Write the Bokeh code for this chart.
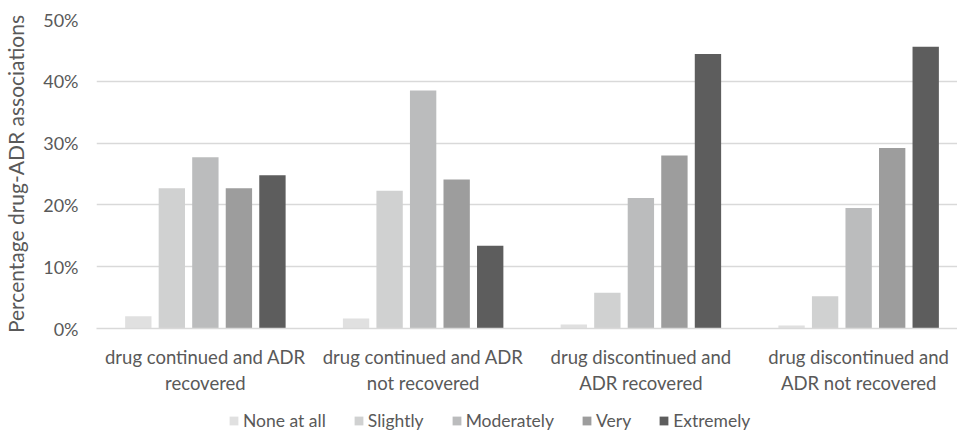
from bokeh.plotting import figure
from bokeh.models import (Range1d, FixedTicker, PrintfTickFormatter, Legend,
                          LegendItem, ColumnDataSource)
from bokeh.layouts import column
from bokeh.transform import dodge
from bokeh.embed import file_html
from bokeh.resources import INLINE

categories = ["drug continued and ADR\nrecovered",
              "drug continued and ADR\nnot recovered",
              "drug discontinued and\nADR recovered",
              "drug discontinued and\nADR not recovered"]
levels = ["None at all", "Slightly", "Moderately", "Very", "Extremely"]
none_at_all = [2.0, 1.6, 0.65, 0.5]
slightly = [22.7, 22.3, 5.8, 5.2]
moderately = [27.7, 38.5, 21.1, 19.5]
very = [22.7, 24.1, 28.0, 29.2]
extremely = [24.8, 13.4, 44.4, 45.6]
y_ticks = [0, 10, 20, 30, 40, 50]

colors = ["#e0e0e0", "#d0d1d1", "#bbbcbd", "#9d9d9d", "#5d5d5d"]
series = [none_at_all, slightly, moderately, very, extremely]

FONT = "Lato"
TXT = "#595959"
FS = "18.5px"

xc = [i + 0.5 for i in range(len(categories))]
src = ColumnDataSource(dict(xc=xc, **{lv: s for lv, s in zip(levels, series)}))

p = figure(width=957, height=397, output_backend="svg", toolbar_location=None,
           x_range=Range1d(0, 3.954), y_range=Range1d(0, 50),
           min_border_left=91, min_border_right=0, min_border_top=19,
           min_border_bottom=69, outline_line_color=None)

pitch = 0.154
bw = 0.121
for i, (lv, col) in enumerate(zip(levels, colors)):
    p.vbar(x=dodge("xc", (i - 2) * pitch, range=p.x_range), top=lv, width=bw,
           source=src, fill_color=col, line_color=None)

p.xgrid.visible = False
p.ygrid.grid_line_color = "#d9d9d9"
p.ygrid.grid_line_width = 1.3
p.ygrid.ticker = FixedTicker(ticks=y_ticks)

ya = p.yaxis[0]
ya.ticker = FixedTicker(ticks=y_ticks)
ya.formatter = PrintfTickFormatter(format="%d%%")
ya.axis_line_color = None
ya.major_tick_line_color = None
ya.minor_tick_line_color = None
ya.major_label_standoff = 12
ya.major_label_text_font = FONT
ya.major_label_text_font_size = "18px"
ya.major_label_text_color = TXT
ya.axis_label = "Percentage drug-ADR associations"
ya.axis_label_text_font = FONT
ya.axis_label_text_font_size = "21px"
ya.axis_label_text_font_style = "normal"
ya.axis_label_text_color = TXT
ya.axis_label_standoff = 12

xa = p.xaxis[0]
xa.ticker = FixedTicker(ticks=xc)
xa.major_label_overrides = {x: c for x, c in zip(xc, categories)}
xa.axis_line_color = "#d9d9d9"
xa.axis_line_width = 1.3
xa.major_tick_line_color = None
xa.minor_tick_line_color = None
xa.major_label_standoff = 11
xa.major_label_text_font = FONT
xa.major_label_text_font_size = FS
xa.major_label_text_color = TXT
xa.major_label_text_align = "center"

# legend strip below the chart (bars drawn off-screen; only the legend shows)
p2 = figure(width=957, height=34, output_backend="svg", toolbar_location=None,
            x_range=Range1d(0, 1), y_range=Range1d(1000, 1001),
            x_axis_location=None, y_axis_location=None,
            min_border=0, outline_line_color=None)
p2.grid.visible = False
items = []
for lv, col in zip(levels, colors):
    r = p2.vbar(x="xc", top=lv, width=0.1, source=src,
                fill_color=col, line_color=None)
    items.append(LegendItem(label=lv, renderers=[r]))

legend = Legend(items=items, orientation="horizontal", location=(132, 0),
                glyph_width=11, glyph_height=11, label_standoff=4, spacing=27,
                label_height=18, label_text_font=FONT, label_text_font_size="17.5px",
                label_text_color=TXT, border_line_color=None,
                background_fill_alpha=0, padding=0, margin=0)
p2.add_layout(legend, "center")

open("out.html", "w").write(file_html(column(p, p2, spacing=0), INLINE))
